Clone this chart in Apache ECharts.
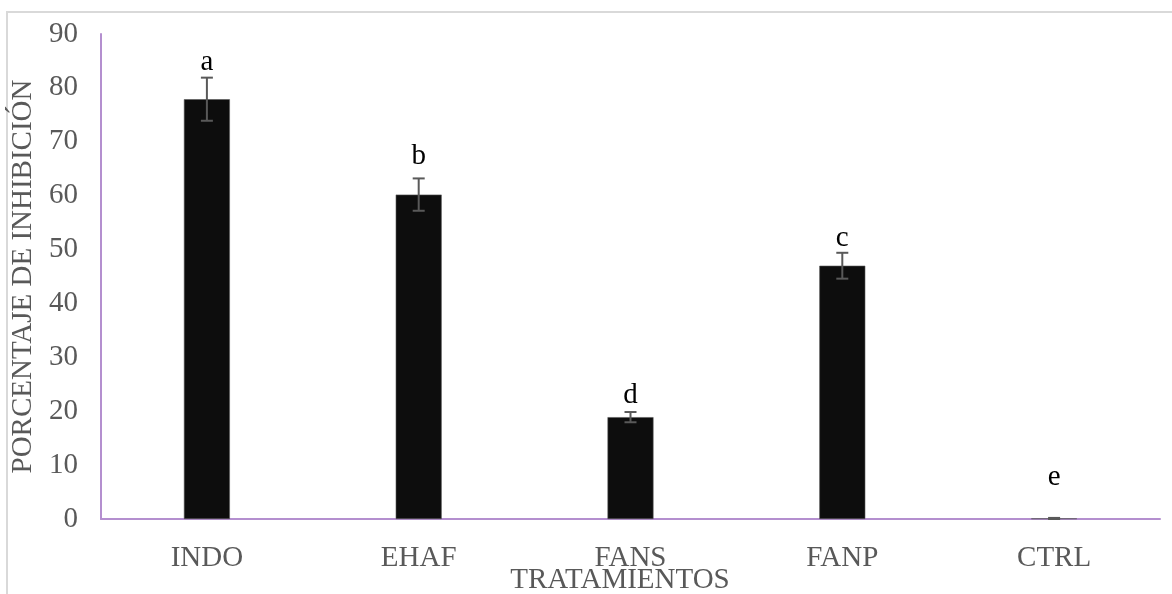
<!DOCTYPE html>
<html>
<head>
<meta charset="utf-8">
<script src="https://cdn.jsdelivr.net/npm/echarts@6/dist/echarts.min.js"></script>
<style>html,body{margin:0;padding:0;background:#fff}#c{width:1172px;height:594px}</style>
</head>
<body>
<div id="c"></div>
<script>
var categories = ['INDO', 'EHAF', 'FANS', 'FANP', 'CTRL'];
var values = [77.9, 60.2, 18.9, 47.0, 0.1];
var errors = [4.0, 3.0, 0.95, 2.4, 0.1];
var letters = ['a', 'b', 'd', 'c', 'e'];
var letterPos = [84.8, 67.2, 23.0, 52.1, 7.8];
var yTicks = [0, 10, 20, 30, 40, 50, 60, 70, 80, 90];

var FONT = '"Liberation Serif", "Times New Roman", serif';
var FS = 29;
var chart = echarts.init(document.getElementById('c'));
chart.setOption({
  animation: false,
  grid: { left: 101, right: 12, top: 34, bottom: 75 },
  graphic: [
    { type: 'rect', shape: { x: 7, y: 12, width: 1200, height: 700 },
      style: { fill: 'none', stroke: '#d9d9d9', lineWidth: 2 }, silent: true },
    { type: 'text', x: 620, y: 580,
      style: { text: 'TRATAMIENTOS', font: FS + 'px ' + FONT, fill: '#595959',
               align: 'center', verticalAlign: 'middle' } }
  ],
  xAxis: {
    type: 'category', data: categories,
    axisLine: { lineStyle: { color: '#b48fcf', width: 2 } },
    axisTick: { show: false },
    axisLabel: { color: '#595959', fontFamily: FONT, fontSize: FS, margin: 25 }
  },
  yAxis: {
    type: 'value', min: 0, max: 90, interval: 10,
    name: 'PORCENTAJE DE INHIBICIÓN', nameLocation: 'middle', nameGap: 62,
    nameTextStyle: { color: '#595959', fontFamily: FONT, fontSize: FS },
    axisLine: { show: true, lineStyle: { color: '#b48fcf', width: 2 } },
    axisTick: { show: false },
    splitLine: { show: false },
    axisLabel: { color: '#595959', fontFamily: FONT, fontSize: FS, margin: 23,
      formatter: function (v) { return yTicks.indexOf(v) >= 0 ? String(v) : ''; } }
  },
  series: [
    {
      type: 'bar', data: values, barWidth: 46,
      itemStyle: { color: '#0d0d0d', borderColor: '#595959', borderWidth: 0.6 }
    },
    {
      type: 'custom',
      data: values.map(function (v, i) { return [i, v, errors[i]]; }),
      renderItem: function (params, api) {
        var i = api.value(0), v = api.value(1), e = api.value(2);
        var top = api.coord([i, v + e]);
        var bot = api.coord([i, Math.max(0, v - e)]);
        var hw = 6;
        var st = { stroke: '#595959', lineWidth: 2 };
        return { type: 'group', children: [
          { type: 'line', shape: { x1: top[0], y1: top[1], x2: bot[0], y2: bot[1] }, style: st },
          { type: 'line', shape: { x1: top[0] - hw, y1: top[1], x2: top[0] + hw, y2: top[1] }, style: st },
          { type: 'line', shape: { x1: bot[0] - hw, y1: bot[1], x2: bot[0] + hw, y2: bot[1] }, style: st }
        ] };
      },
      z: 5
    },
    {
      type: 'custom',
      data: letterPos.map(function (p, i) { return [i, p]; }),
      renderItem: function (params, api) {
        var i = api.value(0);
        var pt = api.coord([i, api.value(1)]);
        return { type: 'text', x: pt[0], y: pt[1],
          style: { text: letters[params.dataIndex], font: FS + 'px ' + FONT, fill: '#000',
                   align: 'center', verticalAlign: 'middle' } };
      },
      z: 6
    }
  ]
});
</script>
</body>
</html>
